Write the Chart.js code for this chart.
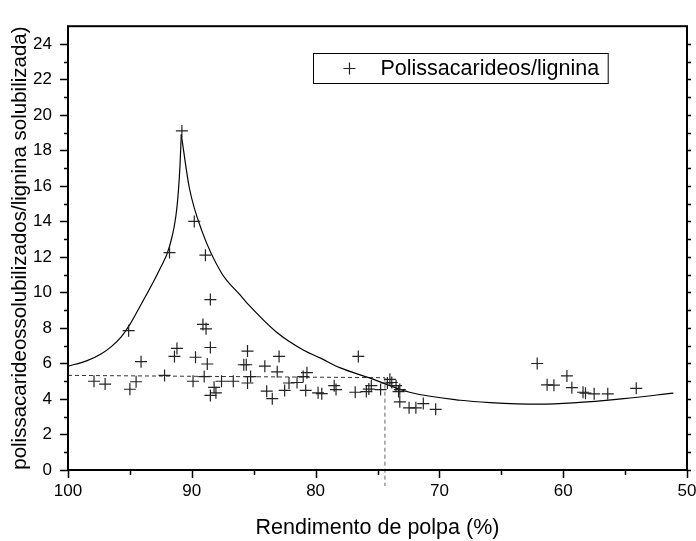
<!DOCTYPE html>
<html>
<head>
<meta charset="utf-8">
<script src="https://cdn.jsdelivr.net/npm/chart.js@4.4.1/dist/chart.umd.min.js"></script>
<style>
  html, body { margin: 0; padding: 0; background: #fff; }
  canvas { display: block; }
</style>
</head>
<body>
<canvas id="grafico" width="696" height="541"></canvas>
<script>
// pulp yield (%) vs. ratio of solubilized polysaccharides / solubilized lignin
let rendX = [90.8, 89.8, 91.8, 88.9, 88.5, 89.1, 88.85, 95.1, 91.2, 88.5, 91.4, 89.7, 94.1, 88.75,
  85.5, 85.8, 85.6, 84.1, 82.95, 83.1, 76.55,
  97.9, 97.0, 95.0, 94.5, 92.2, 89.9, 89.0, 88.2, 88.05, 88.5, 87.6, 86.65, 85.25, 85.5,
  83.95, 83.5, 82.5, 82.15, 81.5, 81.0, 80.7, 80.8, 79.8, 79.5, 78.5, 78.35, 76.8, 75.9,
  75.7, 75.5, 74.75, 74.0, 73.85, 74.2, 73.5, 73.2, 73.3, 73.2, 72.45, 71.9, 71.3, 70.3,
  62.1, 61.3, 60.75, 59.7, 59.3, 58.4, 58.2, 57.5, 56.4, 54.1];
let ratioY = [19.1, 14.0, 12.25, 12.1, 9.6, 8.2, 7.95, 7.85, 6.85, 6.9, 6.4, 6.35, 6.1, 5.97,
  6.7, 5.93, 5.93, 5.85, 6.4, 5.53, 6.4,
  5.0, 4.84, 4.55, 4.97, 5.33, 5.0, 5.26, 4.66, 4.35, 4.2, 5.0, 5.0, 5.26, 4.9,
  4.44, 4.02, 4.48, 4.9, 4.93, 5.26, 5.48, 4.48, 4.35, 4.3, 4.75, 4.53, 4.38, 4.42,
  4.56, 4.75, 4.53, 5.11, 4.93, 4.9, 4.75, 4.53, 4.42, 3.84, 3.5, 3.5, 3.74, 3.42,
  6.0, 4.8, 4.78, 5.3, 4.64, 4.38, 4.33, 4.29, 4.29, 4.6];

// envelope curve, split at the peak so the tip stays sharp
let curvaIzqX = [100, 98.5, 97.3, 96.5, 95.7, 95.0, 94.2, 92.6, 91.8, 91.2, 90.95, 90.85];
let curvaIzqY = [5.85, 6.15, 6.55, 6.95, 7.5, 8.2, 9.2, 11.3, 12.6, 14.8, 17.2, 18.9];
let curvaDerX = [90.85, 90.2, 89.2, 87.6, 86.1, 85.4, 83.15, 81.0, 79.6, 78.0, 75.7, 72.4, 68.3, 65.9, 61.9, 59.2, 55.1, 51.1];
let curvaDerY = [18.9, 15.9, 13.5, 11.1, 9.86, 9.3, 7.76, 6.76, 6.3, 5.75, 5.2, 4.38, 3.93, 3.8, 3.71, 3.78, 4.02, 4.33];

// dashed guide lines
let guiaHX = [100, 74.4];
let guiaHY = [5.33, 5.2];
let guiaVX = [74.4, 74.4];
let guiaVY = [5.2, -0.9];

let ticksX = [50, 60, 70, 80, 90, 100];
let ticksY = [0, 2, 4, 6, 8, 10, 12, 14, 16, 18, 20, 22, 24];

const fuente = '"Liberation Sans", Arial, Helvetica, sans-serif';

function pares(xs, ys) {
  return xs.map((x, i) => ({ x: x, y: ys[i] }));
}

// frame, tick marks and the boxed legend
const marco = {
  id: 'marco',
  afterDraw(chart) {
    const ctx = chart.ctx;
    const a = chart.chartArea;
    const sx = chart.scales.x, sy = chart.scales.y;
    ctx.save();
    ctx.strokeStyle = '#000';
    ctx.lineWidth = 2;
    ctx.strokeRect(a.left, a.top, a.right - a.left, a.bottom - a.top);

    ctx.lineWidth = 1.5;
    ctx.beginPath();
    for (let v = 0; v < 25; v++) {
      const py = Math.round(sy.getPixelForValue(v)) + 0.5;
      const lg = ticksY.includes(v) ? 8 : 4;
      ctx.moveTo(a.left, py); ctx.lineTo(a.left - lg, py);
      ctx.moveTo(a.right, py); ctx.lineTo(a.right + 4, py);
    }
    for (let v = 50; v <= 100; v += 5) {
      const px = Math.round(sx.getPixelForValue(v)) + 0.5;
      const lg = ticksX.includes(v) ? 8 : 5;
      ctx.moveTo(px, a.bottom); ctx.lineTo(px, a.bottom + lg);
    }
    ctx.stroke();

    // legend
    const ds = chart.data.datasets[0];
    ctx.font = '21.5px ' + fuente;
    const tw = ctx.measureText(ds.label).width;
    const bx = 313.5, by = 53.5, bh = 30;
    ctx.lineWidth = 1;
    ctx.strokeRect(bx, by, 67 + tw + 9, bh);
    const mx = bx + 36, my = by + bh / 2;
    ctx.lineWidth = 1.2;
    ctx.strokeStyle = '#222';
    ctx.beginPath();
    ctx.moveTo(mx - 6, my); ctx.lineTo(mx + 6, my);
    ctx.moveTo(mx, my - 6); ctx.lineTo(mx, my + 6);
    ctx.stroke();
    ctx.fillStyle = '#000';
    ctx.textBaseline = 'middle';
    ctx.fillText(ds.label, bx + 67, my + 1);
    ctx.restore();
  }
};

new Chart(document.getElementById('grafico'), {
  type: 'scatter',
  data: {
    datasets: [
      {
        label: 'Polissacarideos/lignina',
        data: pares(rendX, ratioY),
        pointStyle: 'cross',
        pointRadius: 6,
        borderColor: '#222',
        borderWidth: 1.2,
        showLine: false
      },
      {
        label: 'curva1',
        data: pares(curvaIzqX, curvaIzqY),
        showLine: true,
        pointRadius: 0,
        borderColor: '#000',
        borderWidth: 1.2,
        cubicInterpolationMode: 'monotone'
      },
      {
        label: 'curva2',
        data: pares(curvaDerX, curvaDerY),
        showLine: true,
        pointRadius: 0,
        borderColor: '#000',
        borderWidth: 1.2,
        cubicInterpolationMode: 'monotone'
      },
      {
        label: 'guia1',
        data: pares(guiaHX, guiaHY),
        showLine: true,
        pointRadius: 0,
        borderColor: '#333',
        borderWidth: 1,
        borderDash: [4, 3]
      },
      {
        label: 'guia2',
        data: pares(guiaVX, guiaVY),
        showLine: true,
        pointRadius: 0,
        borderColor: '#666',
        borderWidth: 1,
        borderDash: [4, 3],
        clip: false
      }
    ]
  },
  options: {
    responsive: false,
    animation: false,
    layout: { padding: { top: 14, right: 9, left: 0, bottom: 0 } },
    plugins: {
      legend: { display: false },
      tooltip: { enabled: false }
    },
    scales: {
      x: {
        type: 'linear',
        reverse: true,
        min: 50,
        max: 100,
        afterFit: s => { s.height = 71; },
        afterBuildTicks: s => { s.ticks = ticksX.map(v => ({ value: v })); },
        ticks: {
          autoSkip: false,
          maxRotation: 0,
          padding: 11,
          color: '#000',
          font: { family: fuente, size: 17 }
        },
        grid: { display: false, drawTicks: false },
        border: { display: false },
        title: {
          display: true,
          text: 'Rendimento de polpa (%)',
          color: '#000',
          font: { family: fuente, size: 21.5 },
          padding: { top: 0, bottom: 0 }
        }
      },
      y: {
        type: 'linear',
        min: 0,
        max: 25,
        afterFit: s => { s.width = 68; },
        afterBuildTicks: s => { s.ticks = ticksY.map(v => ({ value: v })); },
        ticks: {
          autoSkip: false,
          padding: 16,
          color: '#000',
          font: { family: fuente, size: 17 }
        },
        grid: { display: false, drawTicks: false },
        border: { display: false },
        title: {
          display: true,
          text: 'polissacarideossolubilizados/lignina solubilizada)',
          color: '#000',
          font: { family: fuente, size: 20.5 },
          padding: { top: 8, bottom: 0 }
        }
      }
    }
  },
  plugins: [marco]
});
</script>
</body>
</html>
